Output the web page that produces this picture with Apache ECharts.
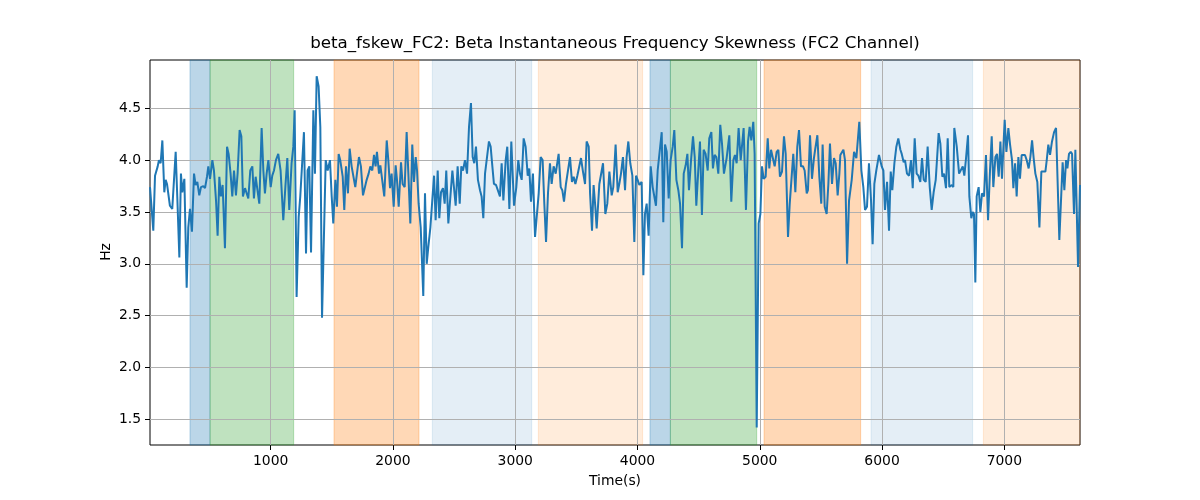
<!DOCTYPE html>
<html>
<head>
<meta charset="utf-8">
<script src="https://cdn.jsdelivr.net/npm/echarts@6/dist/echarts.min.js"></script>
<style>
html,body{margin:0;padding:0;background:#fff;}
#chart{width:1200px;height:500px;}
</style>
</head>
<body>
<div id="chart"></div>
<script>
// ---- data ----
const times = [
13,40,54,76,86,100,114,130,141,152,176,195,209,223,236,253,266,277,294,313,326,340,356,373,386,400,416,430,449,463,479,490,504,523,536,553,566,580,593,607,626,643,656,672,686,700,716,730,746,760,773,790,803,817,833,850,863,877,891,907,926,940,
953,967,981,1000,1013,1027,1043,1062,1081,1103,1120,1136,1152,1171,1185,1196,1212,1229,1242,1256,1272,1289,1302,1316,1330,1349,1362,1376,1392,1406,1420,1450,1466,1485,1499,1512,1529,1542,1556,1569,1589,1602,1616,1632,1646,1662,1676,1692,1706,1722,1738,1755,1771,1785,1801,1815,1831,1845,1858,1869,1886,
1897,1913,1929,1949,1962,1976,1989,2006,2022,2033,2047,2066,2079,2096,2112,2126,2142,2158,2172,2186,2197,2210,2227,2248,2262,2276,2289,2306,2322,2336,2349,2366,2379,2393,2409,2423,2436,2453,2469,2486,2499,2513,2529,2546,2559,2573,2589,2606,2622,2638,2652,2665,2679,2695,2712,2725,2739,2753,2769,2785,2799,2813,2826,
2843,2854,2875,2889,2903,2922,2935,2952,2968,2990,3009,3025,3039,3053,3069,3085,3102,3115,3129,3145,3162,3175,3192,3208,3224,3238,3252,3268,3284,3298,3314,3331,3355,3372,3385,3399,3415,3429,3448,3464,3478,3492,3508,3522,3538,3554,3571,3584,3601,3612,3628,3641,3655,3666,3688,3701,3718,3737,3753,3770,
3789,3802,3821,3838,3851,3865,3881,3898,3911,3925,3941,3958,3974,3988,4001,4015,4034,4048,4061,4075,4091,4108,4124,4138,4151,4165,4181,4198,4211,4225,4239,4255,4271,4288,4301,4318,4334,4348,4364,4378,4394,4408,4421,4438,4454,4468,4481,4497,4511,4527,4541,4557,4574,4587,4604,4617,4631,4645,4661,4677,4691,4707,
4729,4751,4767,4784,4797,4811,4827,4844,4855,4868,4887,4904,4917,4931,4947,4958,4975,4991,5005,5018,5032,5048,5065,5078,5092,5106,5122,5138,5152,5165,5182,5198,5212,5231,5245,5258,5274,5291,5307,5321,5337,5354,5367,5384,5394,5411,5427,5443,5454,5471,5487,5503,5514,5531,5547,5561,5574,5591,5607,5621,5637,5651,
5659,5684,5697,5714,5730,5752,5771,5790,5801,5814,5831,5847,5861,5877,5893,5910,5923,5937,5953,5975,5997,6011,6024,6041,6057,6071,6084,6101,6117,6133,6150,6161,6177,6188,6204,6221,6237,6251,6267,6283,6297,6313,6327,6341,6357,6373,6390,6406,6422,6439,6463,6477,6493,6507,6523,6537,6550,6570,6583,6591,
6611,6630,6646,6660,6673,6687,6703,6714,6730,6741,6752,6763,6774,6790,6804,6818,6834,6850,6867,6883,6897,6910,6927,6940,6954,6968,6981,6995,7003,7017,7033,7047,7063,7074,7088,7101,7115,7128,7142,7156,7169,7183,7199,7213,7227,7240,7254,7270,7287,7303,7319,7336,7347,7360,7374,7390,7407,7423,7437,7450,7464,7477,7491,7505,7516,7529,7543,7554,7570,7581,7592,7603,7619
];
const values = [
3.74,3.32,3.85,3.94,4.00,3.97,4.19,3.69,3.81,3.77,3.56,3.53,3.53,4.08,3.65,3.06,3.87,3.69,3.82,2.77,3.35,3.53,3.31,3.87,3.76,3.79,3.66,3.74,3.75,3.73,3.84,3.94,3.82,4.00,3.90,3.61,3.27,3.84,3.65,3.76,3.15,4.13,4.06,3.87,3.65,3.90,3.66,3.88,4.29,4.23,3.65,3.73,3.74,3.63,3.90,3.94,3.63,3.84,3.85,3.58,4.31,3.90,
3.68,3.87,4.00,3.74,3.85,3.90,4.00,4.06,3.90,3.42,3.74,4.02,3.52,3.97,4.13,4.48,2.68,3.45,3.65,3.65,4.27,3.10,3.90,3.94,3.11,4.48,3.87,4.81,4.71,4.32,2.48,4.00,3.90,4.00,3.65,3.39,3.81,3.55,4.06,4.00,3.84,3.52,3.94,3.68,4.11,3.94,3.94,3.74,3.74,4.03,3.94,3.66,3.65,3.81,3.87,3.94,3.90,4.05,3.94,4.08,3.87,
3.95,3.94,3.65,4.19,4.00,3.73,3.87,3.55,3.95,3.81,3.55,3.98,3.77,3.74,4.27,3.87,3.39,4.15,3.79,4.03,3.90,3.58,3.35,2.69,3.68,3.00,3.16,3.35,3.35,3.85,3.42,3.90,3.44,3.69,3.73,3.58,3.90,3.39,3.40,3.90,3.90,3.56,3.94,3.58,3.94,3.90,4.00,3.87,4.32,4.55,4.03,3.97,4.13,3.81,3.71,3.65,3.44,3.87,3.87,4.18,4.13,3.94,3.77,
3.76,3.76,3.65,3.97,3.61,4.00,4.13,3.53,4.18,3.56,3.74,4.00,3.87,3.81,4.21,4.13,3.85,3.92,3.60,3.87,3.26,3.27,3.68,4.03,4.00,3.58,3.21,3.68,3.97,3.77,3.94,3.87,4.06,3.74,3.71,3.60,3.77,3.76,4.03,3.79,3.84,3.77,3.85,3.85,4.02,3.89,3.77,4.18,4.13,3.68,3.32,3.76,3.55,3.34,3.77,3.76,3.97,3.48,3.58,3.89,
3.66,3.74,4.15,3.69,3.77,3.87,4.03,3.71,4.03,4.18,3.97,3.85,3.21,3.85,3.81,3.76,3.79,2.89,3.48,3.58,3.27,3.94,3.74,3.73,3.56,3.90,3.89,4.27,3.40,4.15,4.08,3.63,4.00,4.13,4.29,3.81,3.71,3.58,3.15,3.87,3.95,4.06,3.71,4.00,4.23,4.03,3.56,3.90,4.18,3.47,4.10,4.06,3.90,4.21,4.27,3.92,4.05,4.03,3.87,4.34,4.16,3.87,
4.02,4.24,3.60,4.00,4.05,3.97,4.31,4.00,4.00,4.31,3.52,4.18,4.32,4.19,4.37,4.06,1.42,3.39,3.48,3.94,3.82,3.84,4.21,3.92,4.10,4.10,3.94,4.08,4.10,3.84,3.89,4.23,4.06,3.26,3.58,3.58,4.06,3.69,4.13,4.29,3.94,3.94,3.90,3.68,3.71,4.24,3.82,4.02,4.11,4.24,3.84,3.58,4.15,3.55,3.48,3.77,4.16,3.77,4.02,3.97,3.66,3.87,
4.05,4.10,4.00,3.00,3.61,3.81,4.08,4.02,4.03,4.37,3.90,3.74,3.52,3.55,3.97,3.61,3.19,3.77,3.90,4.05,3.94,3.90,3.52,3.79,3.32,3.89,3.71,3.97,4.13,4.21,4.10,4.06,3.98,4.00,3.87,3.85,4.00,3.73,4.21,3.87,3.85,3.79,4.02,3.81,3.79,4.13,3.74,3.52,3.69,3.81,4.26,4.16,3.84,3.87,3.73,4.21,3.74,3.76,3.74,4.31,
4.13,3.87,3.87,3.94,3.85,4.02,4.24,3.65,3.44,3.50,3.48,2.82,3.65,3.74,3.50,3.68,3.65,4.05,3.42,3.90,4.23,3.74,4.03,4.06,3.84,4.18,3.82,4.19,4.39,4.08,4.31,4.15,4.00,3.73,3.97,3.65,4.03,3.82,4.05,4.06,4.05,4.00,3.92,4.03,4.19,4.02,3.87,3.79,3.35,3.89,3.89,3.89,4.00,4.15,4.05,4.18,4.27,4.31,4.31,3.23,3.24,3.98,3.71,4.00,3.92,4.06,4.08,4.06,3.48,4.10,4.10,2.97,3.76
];
const spanStart = [340, 504, 1518, 2322, 3189, 4102, 4269, 5035, 5910, 6829];
const spanEnd   = [504, 1188, 2213, 3135, 4042, 4269, 4975, 5825, 6741, 7619];
const spanKind  = ['blue','green','orange','lightblue','lightorange','blue','green','orange','lightblue','lightorange'];
const xTicks = [1000, 2000, 3000, 4000, 5000, 6000, 7000];
const yTicks = [1.5, 2.0, 2.5, 3.0, 3.5, 4.0, 4.5];
const titleText = 'beta_fskew_FC2: Beta Instantaneous Frequency Skewness (FC2 Channel)';
const xName = 'Time(s)';
const yName = 'Hz';

// ---- styles ----
const kindColor = {
  blue: 'rgba(31,119,180,0.3)',
  green: 'rgba(44,160,44,0.3)',
  orange: 'rgba(255,127,14,0.3)',
  lightblue: 'rgba(31,119,180,0.12)',
  lightorange: 'rgba(255,127,14,0.15)'
};
const FONT = 'DejaVu Sans';

const seriesData = times.map((t, i) => [t, values[i]]);
const areas = spanStart.map((s, i) => [
  { xAxis: s, itemStyle: { color: kindColor[spanKind[i]], borderColor: kindColor[spanKind[i]], borderWidth: 1 } },
  { xAxis: spanEnd[i] }
]);
const gridLines = xTicks.map(v => ({ xAxis: v })).concat(yTicks.map(v => ({ yAxis: v })));

const chart = echarts.init(document.getElementById('chart'), null, { renderer: 'canvas' });
chart.setOption({
  animation: false,
  backgroundColor: '#fff',
  grid: { left: 150, right: 120, top: 60, bottom: 55, show: true, borderColor: '#000', borderWidth: 1, backgroundColor: 'transparent', containLabel: false },
  graphic: [
    { type: 'text', x: 615, y: 44, style: { text: titleText, font: '16.7px "DejaVu Sans"', fill: '#000', textAlign: 'center', textVerticalAlign: 'middle' }, z: 10 },
    { type: 'text', x: 615, y: 481, style: { text: xName, font: '13.9px "DejaVu Sans"', fill: '#000', textAlign: 'center', textVerticalAlign: 'middle' }, z: 10 },
    { type: 'text', x: 106, y: 252, rotation: Math.PI / 2, style: { text: yName, font: '13.9px "DejaVu Sans"', fill: '#000', textAlign: 'center', textVerticalAlign: 'middle' }, z: 10 }
  ],
  xAxis: {
    type: 'value',
    min: times[0],
    max: times[times.length - 1],
    axisLine: { show: false },
    axisTick: { show: true, customValues: xTicks, length: 5, lineStyle: { color: '#000', width: 1 } },
    axisLabel: { customValues: xTicks, color: '#000', fontSize: 13.9, fontFamily: FONT, margin: 9, formatter: v => String(Math.round(v)) },
    splitLine: { show: false }
  },
  yAxis: {
    type: 'value',
    min: 1.252,
    max: 4.966,
    axisLine: { show: false },
    axisTick: { show: true, customValues: yTicks, length: 5, lineStyle: { color: '#000', width: 1 } },
    axisLabel: { customValues: yTicks, color: '#000', fontSize: 13.9, fontFamily: FONT, margin: 9, formatter: v => v.toFixed(1) },
    splitLine: { show: false }
  },
  series: [{
    type: 'line',
    data: seriesData,
    z: 3,
    showSymbol: false,
    symbol: 'none',
    sampling: 'none',
    lineStyle: { color: '#1f77b4', width: 2 },
    itemStyle: { color: '#1f77b4' },
    markArea: { silent: true, z: 1, data: areas },
    markLine: {
      silent: true, z: 2, symbol: ['none', 'none'], label: { show: false },
      lineStyle: { color: '#b0b0b0', width: 1, type: 'solid' },
      emphasis: { disabled: true },
      data: gridLines
    }
  }]
});
</script>
</body>
</html>
